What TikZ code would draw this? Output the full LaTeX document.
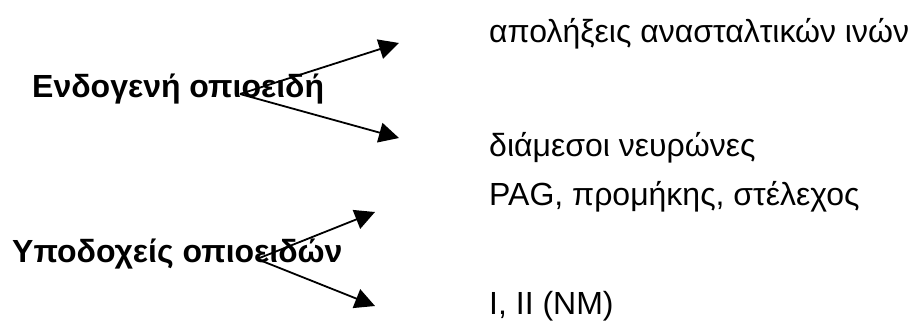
\documentclass[tikz,border=0pt]{standalone}
\usepackage{fontspec}
\setmainfont{Liberation Sans}
\usetikzlibrary{arrows.meta}
\tikzset{
  head/.style={font=\bfseries\fontsize{32}{38}\selectfont, anchor=base west, inner sep=0pt},
  item/.style={font=\fontsize{32}{38}\selectfont, anchor=base west, inner sep=0pt},
  arr/.style={line width=1.8pt, -{Triangle[length=20pt,width=20pt]}}
}
\begin{document}
\begin{tikzpicture}[x=1pt,y=-1pt]
\useasboundingbox (0,0) rectangle (915,322);
\node[head] (h1) at (32,97) {Ενδογενή οπιοειδή};
\node[head] (h2) at (12,262) {Υποδοχείς οπιοειδών};
\node[item] (t1) at (489,42) {απολήξεις ανασταλτικών ινών};
\node[item] (t2) at (489,156) {διάμεσοι νευρώνες};
\node[item] (t3) at (489,205) {PAG, προμήκης, στέλεχος};
\node[item] (t4) at (489,314) {I, II (NM)};
\coordinate (s1) at (240,94);
\coordinate (e1) at (399,43);
\coordinate (e2) at (399,138);
\coordinate (s2) at (257,259);
\coordinate (e3) at (375,212);
\coordinate (e4) at (375,306);
\draw[arr] (s1) -- (e1);
\draw[arr] (s1) -- (e2);
\draw[arr] (s2) -- (e3);
\draw[arr] (s2) -- (e4);
\end{tikzpicture}
\end{document}
